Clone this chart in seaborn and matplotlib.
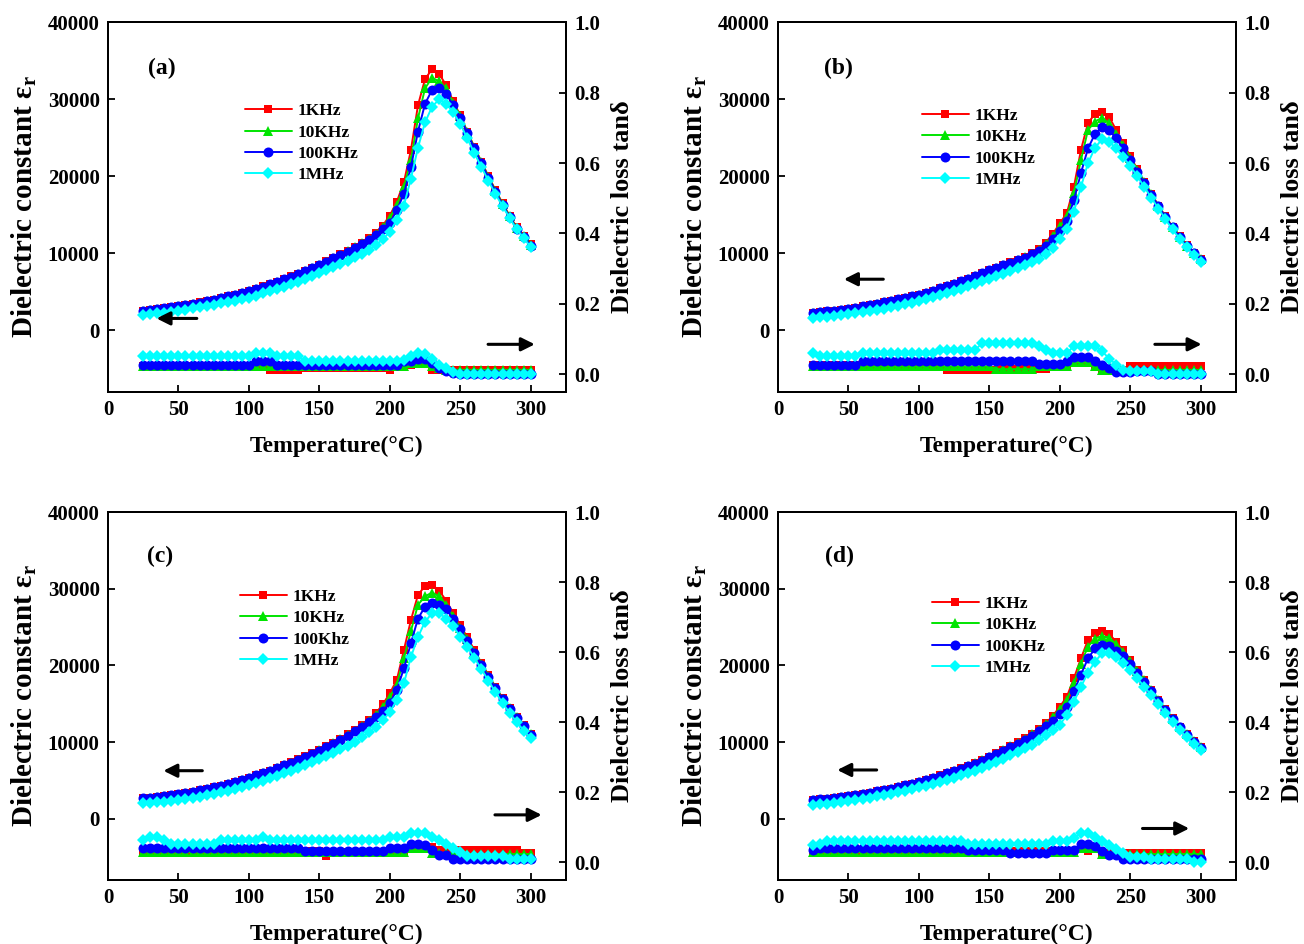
import matplotlib
matplotlib.use("Agg")
import matplotlib.pyplot as plt
import seaborn as sns

# ---------------- data ----------------
temperature = [25, 30, 35, 40, 45, 50, 55, 60, 65, 70, 75, 80, 85, 90, 95, 100,
               105, 110, 115, 120, 125, 130, 135, 140, 145, 150,
               155, 160, 165, 170, 175, 180, 185, 190, 195, 200,
               205, 210, 215, 220, 225, 230, 235, 240, 245, 250,
               255, 260, 265, 270, 275, 280, 285, 290, 295, 300]

# ---- panel (a) dielectric constant ----
a_eps_1k = [2550, 2650, 2760, 2870, 3000, 3150, 3300, 3460, 3630, 3810, 4000, 4200, 4420, 4650, 4900, 5150,
            5420, 5700, 6000, 6320, 6650, 7000, 7360, 7740, 8130, 8540,
            8960, 9400, 9860, 10340, 10850, 11400, 12000, 12700, 13600, 14900,
            16700, 19200, 23400, 29200, 32600, 33900, 33300, 31800, 29700, 27900,
            25800, 23800, 21900, 20000, 18200, 16500, 14900, 13400, 12300, 11200]
a_eps_10k = [2500, 2610, 2720, 2830, 2960, 3100, 3250, 3410, 3580, 3760, 3950, 4150, 4370, 4600, 4850, 5100,
             5370, 5650, 5950, 6270, 6600, 6950, 7310, 7690, 8080, 8490,
             8910, 9350, 9810, 10290, 10800, 11330, 11900, 12550, 13400, 14600,
             16300, 18600, 22100, 27500, 31400, 32800, 32300, 31400, 29500, 27800,
             25700, 23700, 21800, 19900, 18100, 16400, 14800, 13300, 12200, 11100]
a_eps_100k = [2520, 2630, 2740, 2850, 2980, 3130, 3280, 3440, 3610, 3790, 3980, 4180, 4400, 4630, 4880, 5130,
              5400, 5680, 5980, 6300, 6630, 6980, 7340, 7710, 8100, 8500,
              8910, 9330, 9770, 10230, 10700, 11200, 11750, 12400, 13100, 13900,
              15600, 17700, 21200, 25800, 29400, 31200, 31500, 30700, 29200, 27600,
              25600, 23600, 21700, 19800, 18000, 16300, 14700, 13200, 12100, 11000]
a_eps_1m = [2000, 2100, 2200, 2310, 2430, 2560, 2700, 2840, 2990, 3150, 3320, 3500, 3680, 3870, 4060, 4260,
            4520, 4790, 5070, 5360, 5660, 5970, 6300, 6650, 7010, 7400,
            7780, 8170, 8580, 9010, 9460, 9950, 10480, 11080, 11800, 12800,
            14300, 16200, 19700, 23700, 27000, 29000, 30000, 29400, 28300, 26800,
            24900, 23000, 21200, 19400, 17700, 16100, 14600, 13100, 12000, 10800]

# ---- panel (a) dielectric loss ----
a_tan_1k = [0.025, 0.025, 0.025, 0.025, 0.025, 0.025, 0.025, 0.025, 0.025, 0.025, 0.025, 0.025, 0.025, 0.025, 0.025, 0.025,
            0.025, 0.025, 0.013, 0.013, 0.013, 0.013, 0.013, 0.018, 0.018, 0.018,
            0.018, 0.018, 0.018, 0.018, 0.018, 0.018, 0.018, 0.018, 0.018, 0.013,
            0.026, 0.026, 0.026, 0.030, 0.030, 0.013, 0.013, 0.013, 0.013, 0.013,
            0.013, 0.013, 0.013, 0.013, 0.013, 0.013, 0.013, 0.013, 0.013, 0.013]
a_tan_10k = [0.025, 0.025, 0.025, 0.025, 0.025, 0.025, 0.025, 0.025, 0.025, 0.025, 0.025, 0.025, 0.025, 0.025, 0.025, 0.025,
             0.025, 0.025, 0.025, 0.025, 0.025, 0.025, 0.025, 0.025, 0.025, 0.025,
             0.025, 0.025, 0.025, 0.025, 0.025, 0.025, 0.025, 0.025, 0.025, 0.025,
             0.025, 0.025, 0.032, 0.032, 0.032, 0.025, 0.018, 0.013, 0.013, 0.013,
             0.013, 0.013, 0.013, 0.013, 0.013, 0.013, 0.013, 0.013, 0.013, 0.013]
a_tan_100k = [0.028, 0.028, 0.028, 0.028, 0.028, 0.028, 0.028, 0.028, 0.028, 0.028, 0.028, 0.028, 0.028, 0.028, 0.028, 0.028,
              0.037, 0.037, 0.037, 0.028, 0.028, 0.028, 0.028, 0.026, 0.026, 0.026,
              0.026, 0.026, 0.026, 0.026, 0.026, 0.026, 0.026, 0.026, 0.026, 0.026,
              0.026, 0.037, 0.037, 0.045, 0.045, 0.032, 0.018, 0.009, 0.004, 0.0,
              0.0, 0.0, 0.0, 0.0, 0.0, 0.0, 0.0, 0.0, 0.0, 0.0]
a_tan_1m = [0.051, 0.051, 0.051, 0.051, 0.051, 0.051, 0.051, 0.051, 0.051, 0.051, 0.051, 0.051, 0.051, 0.051, 0.051, 0.051,
            0.061, 0.061, 0.061, 0.051, 0.051, 0.051, 0.051, 0.039, 0.039, 0.039,
            0.039, 0.039, 0.039, 0.039, 0.039, 0.039, 0.039, 0.039, 0.039, 0.039,
            0.039, 0.042, 0.051, 0.061, 0.058, 0.045, 0.028, 0.018, 0.007, 0.0,
            0.0, 0.0, 0.0, 0.0, 0.0, 0.0, 0.0, 0.0, 0.0, 0.0]

# ---- panel (b) dielectric constant ----
b_eps_1k = [2300, 2380, 2470, 2570, 2680, 2800, 2950, 3110, 3280, 3470, 3680, 3860, 4040, 4230, 4430, 4630,
            4890, 5160, 5450, 5750, 6060, 6390, 6730, 7080, 7440, 7800,
            8140, 8490, 8840, 9190, 9550, 10000, 10600, 11400, 12500, 13900,
            15200, 18600, 23400, 26900, 28100, 28300, 27700, 26000, 24300, 22600,
            20900, 19300, 17750, 16200, 14800, 13450, 12200, 11100, 10100, 9250]
b_eps_10k = [2270, 2350, 2440, 2540, 2650, 2770, 2910, 3070, 3240, 3430, 3630, 3810, 3990, 4180, 4380, 4580,
             4840, 5110, 5400, 5700, 6010, 6330, 6670, 7020, 7380, 7740,
             8080, 8420, 8770, 9120, 9480, 9900, 10450, 11200, 12200, 13500,
             14800, 17800, 22100, 26000, 27100, 27600, 26900, 25500, 24000, 22400,
             20800, 19200, 17650, 16100, 14700, 13350, 12100, 11000, 10000, 9200]
b_eps_100k = [2300, 2380, 2470, 2570, 2680, 2800, 2950, 3110, 3280, 3470, 3680, 3860, 4040, 4230, 4430, 4630,
              4880, 5150, 5440, 5740, 6050, 6380, 6720, 7070, 7430, 7780,
              8110, 8450, 8790, 9130, 9450, 9850, 10350, 11000, 11900, 12900,
              14200, 16900, 20400, 23600, 25500, 26400, 26000, 24900, 23600, 22100,
              20600, 19100, 17600, 16100, 14700, 13350, 12100, 11000, 10000, 9150]
b_eps_1m = [1650, 1720, 1800, 1880, 1970, 2080, 2200, 2330, 2470, 2630, 2800, 2980, 3170, 3370, 3580, 3810,
            4050, 4300, 4560, 4830, 5110, 5410, 5720, 6040, 6370, 6710,
            7030, 7360, 7710, 8070, 8440, 8840, 9300, 9900, 10700, 11900,
            13200, 15400, 18600, 21700, 23700, 24800, 24500, 23600, 22500, 21300,
            20000, 18600, 17200, 15800, 14400, 13100, 11900, 10800, 9800, 8900]

# ---- panel (b) dielectric loss ----
b_tan_1k = [0.026, 0.026, 0.026, 0.026, 0.026, 0.026, 0.026, 0.026, 0.026, 0.026, 0.026, 0.026, 0.026, 0.026, 0.026, 0.026,
            0.026, 0.026, 0.026, 0.013, 0.013, 0.013, 0.013, 0.013, 0.013, 0.013,
            0.013, 0.015, 0.015, 0.015, 0.015, 0.015, 0.015, 0.015, 0.024, 0.024,
            0.024, 0.032, 0.032, 0.032, 0.024, 0.013, 0.013, 0.013, 0.013, 0.024,
            0.024, 0.024, 0.024, 0.024, 0.024, 0.024, 0.024, 0.024, 0.024, 0.024]
b_tan_10k = [0.023, 0.023, 0.023, 0.023, 0.023, 0.023, 0.023, 0.023, 0.023, 0.023, 0.023, 0.023, 0.023, 0.023, 0.023, 0.023,
             0.023, 0.023, 0.023, 0.023, 0.023, 0.023, 0.023, 0.023, 0.023, 0.023,
             0.015, 0.015, 0.015, 0.015, 0.015, 0.015, 0.023, 0.023, 0.023, 0.023,
             0.023, 0.035, 0.035, 0.035, 0.025, 0.013, 0.013, 0.013, 0.013, 0.013,
             0.013, 0.013, 0.013, 0.013, 0.013, 0.013, 0.013, 0.013, 0.013, 0.013]
b_tan_100k = [0.028, 0.028, 0.028, 0.028, 0.028, 0.028, 0.028, 0.037, 0.037, 0.037, 0.037, 0.037, 0.037, 0.037, 0.037, 0.037,
              0.037, 0.037, 0.037, 0.037, 0.037, 0.037, 0.037, 0.037, 0.037, 0.037,
              0.037, 0.037, 0.037, 0.037, 0.037, 0.037, 0.030, 0.030, 0.030, 0.030,
              0.037, 0.049, 0.049, 0.049, 0.039, 0.028, 0.018, 0.006, 0.006, 0.006,
              0.009, 0.009, 0.009, 0.0, 0.0, 0.0, 0.0, 0.0, 0.0, 0.0]
b_tan_1m = [0.061, 0.051, 0.051, 0.051, 0.051, 0.051, 0.051, 0.061, 0.061, 0.061, 0.061, 0.061, 0.061, 0.061, 0.061, 0.061,
            0.061, 0.061, 0.070, 0.070, 0.070, 0.070, 0.070, 0.070, 0.089, 0.089,
            0.089, 0.089, 0.089, 0.089, 0.089, 0.089, 0.080, 0.070, 0.061, 0.061,
            0.061, 0.080, 0.080, 0.080, 0.080, 0.066, 0.045, 0.028, 0.013, 0.009,
            0.009, 0.009, 0.009, 0.0, 0.0, 0.0, 0.0, 0.0, 0.0, 0.0]

# ---- panel (c) dielectric constant ----
c_eps_1k = [2650, 2740, 2840, 2940, 3050, 3170, 3330, 3500, 3680, 3880, 4090, 4320, 4560, 4810, 5070, 5350,
            5650, 5960, 6280, 6620, 6990, 7360, 7740, 8140, 8540, 8960,
            9420, 9900, 10420, 10980, 11570, 12200, 12900, 13740, 14900, 16350,
            18100, 22000, 25900, 29200, 30350, 30500, 29750, 28450, 26800, 25250,
            23650, 22000, 20300, 18750, 17200, 15750, 14500, 13300, 12200, 11100]
c_eps_10k = [2620, 2710, 2810, 2910, 3020, 3140, 3300, 3470, 3650, 3850, 4060, 4290, 4530, 4780, 5040, 5320,
             5620, 5930, 6250, 6590, 6950, 7320, 7700, 8100, 8500, 8920,
             9370, 9850, 10360, 10910, 11500, 12100, 12780, 13550, 14600, 15900,
             17500, 20900, 24500, 27900, 29000, 29500, 29000, 27900, 26400, 24900,
             23400, 21800, 20150, 18600, 17100, 15650, 14400, 13200, 12100, 11000]
c_eps_100k = [2650, 2740, 2840, 2940, 3050, 3170, 3330, 3500, 3680, 3880, 4090, 4320, 4560, 4810, 5070, 5340,
              5640, 5940, 6260, 6590, 6950, 7310, 7680, 8070, 8470, 8880,
              9320, 9790, 10290, 10820, 11380, 11950, 12550, 13250, 14050, 15050,
              16800, 19600, 22900, 26100, 27650, 28100, 27900, 27300, 26100, 24700,
              23200, 21650, 20050, 18500, 17000, 15600, 14350, 13150, 12050, 10950]
c_eps_1m = [2000, 2070, 2150, 2230, 2320, 2430, 2560, 2700, 2860, 3030, 3220, 3420, 3640, 3870, 4120, 4390,
            4660, 4940, 5240, 5560, 5900, 6250, 6610, 6980, 7360, 7740,
            8150, 8580, 9040, 9530, 10040, 10600, 11250, 12000, 12850, 13870,
            15500, 17650, 21100, 23700, 25700, 26800, 26800, 26100, 25100, 23750,
            22400, 21000, 19500, 18000, 16500, 15100, 13800, 12600, 11500, 10500]

# ---- panel (c) dielectric loss ----
c_tan_1k = [0.032, 0.032, 0.032, 0.032, 0.032, 0.032, 0.032, 0.032, 0.032, 0.032, 0.032, 0.032, 0.032, 0.032, 0.032, 0.032,
            0.032, 0.032, 0.032, 0.032, 0.032, 0.032, 0.032, 0.032, 0.032, 0.032,
            0.018, 0.030, 0.030, 0.030, 0.030, 0.030, 0.030, 0.030, 0.030, 0.030,
            0.030, 0.030, 0.045, 0.045, 0.045, 0.045, 0.035, 0.035, 0.035, 0.035,
            0.035, 0.035, 0.035, 0.035, 0.035, 0.035, 0.035, 0.035, 0.026, 0.026]
c_tan_10k = [0.030, 0.030, 0.030, 0.030, 0.030, 0.030, 0.030, 0.030, 0.030, 0.030, 0.030, 0.030, 0.030, 0.030, 0.030, 0.030,
             0.030, 0.030, 0.030, 0.030, 0.030, 0.030, 0.030, 0.030, 0.030, 0.030,
             0.030, 0.030, 0.030, 0.030, 0.030, 0.030, 0.030, 0.030, 0.030, 0.030,
             0.030, 0.030, 0.040, 0.040, 0.040, 0.026, 0.026, 0.026, 0.026, 0.026,
             0.024, 0.024, 0.024, 0.024, 0.024, 0.024, 0.024, 0.024, 0.024, 0.024]
c_tan_100k = [0.040, 0.040, 0.040, 0.040, 0.040, 0.040, 0.040, 0.040, 0.040, 0.040, 0.040, 0.040, 0.040, 0.040, 0.040, 0.040,
              0.040, 0.040, 0.040, 0.040, 0.040, 0.040, 0.040, 0.032, 0.032, 0.032,
              0.032, 0.032, 0.032, 0.032, 0.032, 0.032, 0.032, 0.032, 0.032, 0.040,
              0.040, 0.040, 0.052, 0.052, 0.049, 0.035, 0.021, 0.021, 0.0095, 0.0095,
              0.0095, 0.0095, 0.0095, 0.0095, 0.0095, 0.0095, 0.0095, 0.0095, 0.0095, 0.0095]
c_tan_1m = [0.064, 0.073, 0.073, 0.064, 0.054, 0.054, 0.054, 0.054, 0.054, 0.054, 0.054, 0.064, 0.064, 0.064, 0.064, 0.064,
            0.064, 0.073, 0.064, 0.064, 0.064, 0.064, 0.064, 0.064, 0.064, 0.064,
            0.064, 0.064, 0.064, 0.064, 0.064, 0.064, 0.064, 0.064, 0.064, 0.073,
            0.073, 0.073, 0.083, 0.083, 0.083, 0.073, 0.064, 0.052, 0.040, 0.030,
            0.018, 0.018, 0.018, 0.018, 0.018, 0.018, 0.0095, 0.0095, 0.0095, 0.0095]

# ---- panel (d) dielectric constant ----
d_eps_1k = [2430, 2520, 2610, 2710, 2830, 2960, 3100, 3250, 3400, 3570, 3740, 3930, 4130, 4350, 4580, 4830,
            5090, 5360, 5640, 5930, 6220, 6550, 6890, 7250, 7660, 8090,
            8530, 8990, 9470, 9970, 10480, 11050, 11700, 12430, 13400, 14600,
            15900, 18300, 20900, 23300, 24250, 24500, 24100, 23100, 22000, 20700,
            19400, 18100, 16800, 15500, 14250, 13100, 12000, 11050, 10150, 9400]
d_eps_10k = [2400, 2490, 2580, 2680, 2800, 2930, 3070, 3220, 3370, 3540, 3710, 3900, 4100, 4320, 4550, 4800,
             5060, 5330, 5610, 5900, 6190, 6520, 6860, 7220, 7630, 8050,
             8490, 8950, 9430, 9930, 10430, 10990, 11620, 12300, 13200, 14300,
             15500, 17700, 20200, 22450, 23500, 23850, 23600, 22800, 21800, 20600,
             19300, 18050, 16750, 15450, 14200, 13050, 11950, 11000, 10100, 9350]
d_eps_100k = [2430, 2520, 2610, 2710, 2830, 2960, 3100, 3250, 3400, 3570, 3740, 3930, 4130, 4350, 4580, 4820,
              5080, 5340, 5620, 5900, 6190, 6510, 6840, 7190, 7580, 7990,
              8410, 8850, 9300, 9780, 10270, 10800, 11400, 12050, 12800, 13600,
              14600, 16600, 18800, 20900, 22200, 22650, 22500, 21900, 21200, 20200,
              19000, 17850, 16600, 15350, 14150, 13000, 11900, 10950, 10050, 9250]
d_eps_1m = [1780, 1870, 1970, 2070, 2190, 2320, 2450, 2590, 2740, 2900, 3060, 3240, 3430, 3640, 3860, 4090,
            4320, 4560, 4820, 5080, 5350, 5640, 5950, 6280, 6630, 7000,
            7400, 7820, 8250, 8700, 9170, 9670, 10250, 10910, 11550, 12250,
            13500, 15250, 17200, 19050, 20500, 21550, 21550, 21100, 20250, 19350,
            18300, 17200, 16100, 14900, 13750, 12650, 11600, 10600, 9750, 8950]

# ---- panel (d) dielectric loss ----
d_tan_1k = [0.032, 0.032, 0.032, 0.032, 0.032, 0.032, 0.032, 0.032, 0.032, 0.032, 0.032, 0.032, 0.032, 0.032, 0.032, 0.032,
            0.032, 0.032, 0.032, 0.032, 0.032, 0.032, 0.032, 0.032, 0.032, 0.032,
            0.032, 0.032, 0.032, 0.032, 0.032, 0.032, 0.032, 0.032, 0.032, 0.032,
            0.032, 0.030, 0.040, 0.032, 0.040, 0.026, 0.026, 0.026, 0.026, 0.026,
            0.026, 0.026, 0.026, 0.026, 0.026, 0.026, 0.026, 0.026, 0.026, 0.026]
d_tan_10k = [0.030, 0.030, 0.030, 0.030, 0.030, 0.030, 0.030, 0.030, 0.030, 0.030, 0.030, 0.030, 0.030, 0.030, 0.030, 0.030,
             0.030, 0.030, 0.030, 0.030, 0.030, 0.030, 0.030, 0.030, 0.030, 0.030,
             0.030, 0.030, 0.030, 0.030, 0.030, 0.030, 0.030, 0.030, 0.030, 0.030,
             0.030, 0.030, 0.040, 0.040, 0.040, 0.024, 0.024, 0.024, 0.024, 0.024,
             0.024, 0.024, 0.024, 0.024, 0.024, 0.024, 0.024, 0.024, 0.024, 0.024]
d_tan_100k = [0.037, 0.040, 0.040, 0.040, 0.040, 0.040, 0.040, 0.040, 0.040, 0.040, 0.040, 0.040, 0.040, 0.040, 0.040, 0.040,
              0.040, 0.040, 0.040, 0.040, 0.040, 0.040, 0.035, 0.035, 0.035, 0.035,
              0.035, 0.035, 0.028, 0.028, 0.028, 0.028, 0.028, 0.028, 0.037, 0.037,
              0.037, 0.037, 0.052, 0.052, 0.047, 0.033, 0.021, 0.021, 0.0095, 0.0095,
              0.0095, 0.0095, 0.0095, 0.0095, 0.0095, 0.0095, 0.0095, 0.0095, 0.0095, 0.011]
d_tan_1m = [0.049, 0.054, 0.062, 0.062, 0.062, 0.062, 0.062, 0.062, 0.062, 0.062, 0.062, 0.062, 0.062, 0.062, 0.062, 0.062,
            0.062, 0.062, 0.062, 0.062, 0.062, 0.062, 0.052, 0.052, 0.052, 0.052,
            0.052, 0.052, 0.052, 0.052, 0.052, 0.052, 0.052, 0.052, 0.062, 0.062,
            0.062, 0.071, 0.083, 0.083, 0.073, 0.062, 0.049, 0.038, 0.026, 0.016,
            0.016, 0.016, 0.0095, 0.0095, 0.0095, 0.0095, 0.0095, 0.0095, 0.0, 0.0]

labels_std = ["1KHz", "10KHz", "100KHz", "1MHz"]
labels_c = ["1KHz", "10KHz", "100Khz", "1MHz"]
x_ticks = [0, 50, 100, 150, 200, 250, 300]
eps_ticks = [0, 10000, 20000, 30000, 40000]
tan_ticks = [0.0, 0.2, 0.4, 0.6, 0.8, 1.0]
tan_tick_labels = ["0.0", "0.2", "0.4", "0.6", "0.8", "1.0"]

# ---------------- style ----------------
sns.set_theme(style="ticks")
plt.rcParams["font.family"] = ["Liberation Serif", "DejaVu Serif"]
plt.rcParams["font.weight"] = "bold"
plt.rcParams["axes.labelweight"] = "bold"
plt.rcParams["text.color"] = "black"
plt.rcParams["axes.labelcolor"] = "black"
plt.rcParams["xtick.color"] = "black"
plt.rcParams["ytick.color"] = "black"
plt.rcParams["xtick.labelcolor"] = "black"
plt.rcParams["ytick.labelcolor"] = "black"
plt.rcParams["axes.edgecolor"] = "black"
plt.rcParams["mathtext.fontset"] = "custom"
plt.rcParams["mathtext.rm"] = "Liberation Serif:bold"
plt.rcParams["mathtext.it"] = "Liberation Serif:bold"
plt.rcParams["mathtext.bf"] = "Liberation Serif:bold"

colors = ["#FF0000", "#00E400", "#0000FF", "#00FFFF"]
markers = ["s", "^", "o", "D"]
msizes = [6.3, 7.0, 7.2, 6.3]

fig = plt.figure(figsize=(13.04, 9.44), dpi=100)

W = 0.3512
panels = [
    dict(rect=[0.0828, 0.5847, W, 0.3919], tag="(a)", tagxy=(0.118, 0.876),
         eps=[a_eps_1k, a_eps_10k, a_eps_100k, a_eps_1m],
         tan=[a_tan_1k, a_tan_10k, a_tan_100k, a_tan_1m], labels=labels_std,
         leg=(0.299, 0.781), larrow=((0.194, 0.199), (0.106, 0.199)),
         rarrow=((0.830, 0.129), (0.932, 0.129))),
    dict(rect=[0.5966, 0.5847, W, 0.3919], tag="(b)", tagxy=(0.131, 0.876),
         eps=[b_eps_1k, b_eps_10k, b_eps_100k, b_eps_1m],
         tan=[b_tan_1k, b_tan_10k, b_tan_100k, b_tan_1m], labels=labels_std,
         leg=(0.314, 0.768), larrow=((0.230, 0.305), (0.144, 0.305)),
         rarrow=((0.823, 0.129), (0.925, 0.129))),
    dict(rect=[0.0828, 0.0678, W, 0.3898], tag="(c)", tagxy=(0.114, 0.880),
         eps=[c_eps_1k, c_eps_10k, c_eps_100k, c_eps_1m],
         tan=[c_tan_1k, c_tan_10k, c_tan_100k, c_tan_1m], labels=labels_c,
         leg=(0.288, 0.791), larrow=((0.206, 0.297), (0.121, 0.297)),
         rarrow=((0.845, 0.177), (0.947, 0.177))),
    dict(rect=[0.5966, 0.0678, W, 0.3898], tag="(d)", tagxy=(0.135, 0.880),
         eps=[d_eps_1k, d_eps_10k, d_eps_100k, d_eps_1m],
         tan=[d_tan_1k, d_tan_10k, d_tan_100k, d_tan_1m], labels=labels_std,
         leg=(0.336, 0.772), larrow=((0.2155, 0.299), (0.1295, 0.299)),
         rarrow=((0.796, 0.140), (0.898, 0.140))),
]

for p in panels:
    ax = fig.add_axes(p["rect"])
    ax2 = ax.twinx()
    for vals, c, m, ms, lab in zip(p["eps"], colors, markers, msizes, p["labels"]):
        sns.lineplot(x=temperature, y=vals, ax=ax, color=c, marker=m, markersize=ms,
                     markeredgewidth=0, markeredgecolor=c, linewidth=1.4, label=lab)
    for vals, c, m, ms in zip(p["tan"], colors, markers, msizes):
        sns.lineplot(x=temperature, y=vals, ax=ax2, color=c, marker=m, markersize=ms,
                     markeredgewidth=0, markeredgecolor=c, linewidth=1.4, legend=False)

    ax.set_xlim(0, 325)
    ax.set_ylim(-8000, 40000)
    ax2.set_ylim(-0.05, 1.0)
    ax.set_xticks(x_ticks)
    ax.set_xticklabels([str(t) for t in x_ticks])
    ax.set_yticks(eps_ticks)
    ax.set_yticklabels([str(t) for t in eps_ticks])
    ax2.set_yticks(tan_ticks)
    ax2.set_yticklabels(tan_tick_labels)

    for a in (ax, ax2):
        a.tick_params(direction="in", length=5, width=1.3, labelsize=15, pad=6,
                      color="black", labelcolor="black")
        for s in a.spines.values():
            s.set_linewidth(1.4)
            s.set_color("black")
        for lab in a.get_xticklabels() + a.get_yticklabels():
            lab.set_fontweight("bold")

    ax.set_xlabel("Temperature(°C)", fontsize=17, fontweight="bold", color="black")
    ax.set_ylabel("Dielectric constant ε$_\\mathrm{r}$", fontsize=21, fontweight="bold",
                  color="black")
    ax2.set_ylabel("Dielectric loss tanδ", fontsize=19, fontweight="bold", color="black")
    ax.xaxis.set_label_coords(0.5, -0.118)
    ax.yaxis.set_label_coords(-0.150, 0.5)
    ax2.yaxis.set_label_coords(1.098, 0.5)

    ax.text(p["tagxy"][0], p["tagxy"][1], p["tag"], transform=ax.transAxes,
            ha="center", va="center", fontsize=17, fontweight="bold", color="black")

    for (start, end) in (p["larrow"], p["rarrow"]):
        ax.annotate("", xy=end, xytext=start, xycoords="axes fraction",
                    textcoords="axes fraction",
                    arrowprops=dict(arrowstyle="-|>", color="black", lw=2.2,
                                    mutation_scale=20, shrinkA=0, shrinkB=0))

    leg = ax.legend(loc="upper left", bbox_to_anchor=p["leg"], frameon=False,
                    handlelength=2.7, handletextpad=0.35,
                    labelspacing=0.3, borderaxespad=0, borderpad=0,
                    prop={"weight": "bold", "size": 12.5})
    for t in leg.get_texts():
        t.set_color("black")
    ax.grid(False)
    ax2.grid(False)

fig.savefig("out.png", dpi=100)
